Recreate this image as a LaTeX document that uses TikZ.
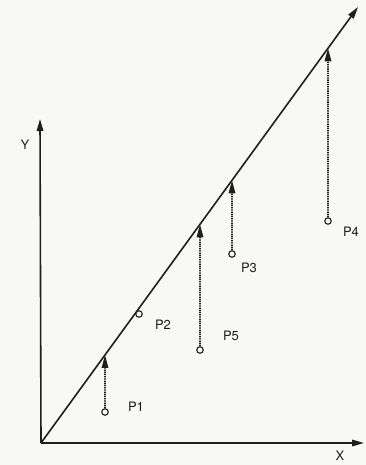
\documentclass[tikz,border=0pt]{standalone}
\usepackage{fontspec}
\setmainfont{TeX Gyre Heros}
\usetikzlibrary{arrows.meta,calc}
\definecolor{bg}{RGB}{248,249,246}
\definecolor{ink}{RGB}{30,30,30}
\begin{document}
\begin{tikzpicture}[x=1pt,y=-1pt,
  axis/.style={ink, line width=1.6pt, -{Triangle[length=12pt,width=6.5pt]}},
  proj/.style={ink, line width=1.6pt, dash pattern=on 1.3pt off 0.9pt, -{Triangle[length=13pt,width=6.5pt]}},
  pt/.style={circle, draw=ink, line width=1.1pt, minimum size=6.5pt, inner sep=0pt},
  lbl/.style={text=ink, font=\fontsize{13}{15}\selectfont, inner sep=0pt}]
\fill[bg] (0,0) rectangle (366,465);
\useasboundingbox (0,0) rectangle (366,465);
% axes and line
\coordinate (o) at (41,443);
\coordinate (xend) at (364,443);
\coordinate (yend) at (40,119);
\coordinate (dend) at (358,7);
\draw[axis] (o) -- (xend);
\draw[axis] (o) -- (yend);
\draw[axis] (o) -- (dend);
\node[lbl] (ylab) at (25,145) {Y};
\node[lbl] (xlab) at (340,456) {X};
% points
\node[pt] (p1) at (105,412) {};
\node[pt] (p2) at (139,314) {};
\node[pt] (p5) at (200,350) {};
\node[pt] (p3) at (232,254) {};
\node[pt] (p4) at (328,221) {};
% projections onto the line
\coordinate (t1) at ($(o)!{(105-41)/(358-41)}!(dend)$);
\coordinate (t5) at ($(o)!{(200-41)/(358-41)}!(dend)$);
\coordinate (t3) at ($(o)!{(232-41)/(358-41)}!(dend)$);
\coordinate (t4) at ($(o)!{(328-41)/(358-41)}!(dend)$);
\draw[proj] (p1) -- (t1);
\draw[proj] (p5) -- (t5);
\draw[proj] (p3) -- (t3);
\draw[proj] (p4) -- (t4);
% labels
\node[lbl] (l1) at (136,407) {P1};
\node[lbl] (l2) at (163,325) {P2};
\node[lbl] (l5) at (231,336) {P5};
\node[lbl] (l3) at (249,268) {P3};
\node[lbl] (l4) at (351,232) {P4};
\end{tikzpicture}
\end{document}
